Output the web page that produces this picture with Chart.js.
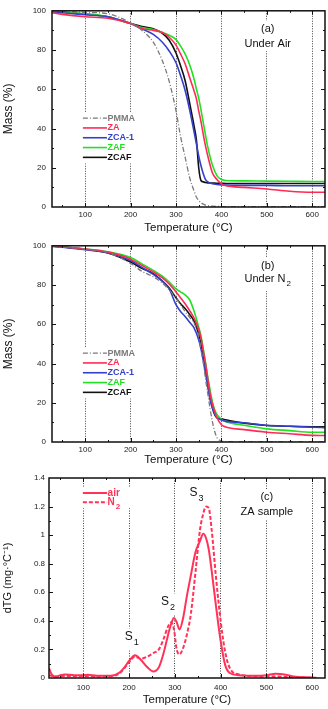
<!DOCTYPE html>
<html>
<head>
<meta charset="utf-8">
<script src="https://cdn.jsdelivr.net/npm/chart.js@4.4.1/dist/chart.umd.min.js"></script>
<style>
  html, body { margin: 0; padding: 0; background: #fff; }
  #wrap { position: relative; width: 328px; height: 709px; background: #fff; }
  canvas { position: absolute; left: 0; }
</style>
</head>
<body>
<div id="wrap">
  <canvas id="chartA" width="328" height="235" style="top:0px"></canvas>
  <canvas id="chartB" width="328" height="232" style="top:235px"></canvas>
  <canvas id="chartC" width="328" height="242" style="top:467px"></canvas>
</div>
<script>
const FONT = '"Liberation Sans", Arial, sans-serif';

// shared tick values
const tempTicks = [100, 200, 300, 400, 500, 600];
const massTicks = [0, 20, 40, 60, 80, 100];
const dtgTicks = [0, 0.2, 0.4, 0.6, 0.8, 1, 1.2, 1.4];
const seriesNames = ['PMMA', 'ZA', 'ZCA-1', 'ZAF', 'ZCAF'];

// (a) under air
const airTemp = [27, 50, 100, 150, 200, 225, 250, 270, 285, 300, 310, 320, 330, 340, 345, 350, 355, 360, 365, 370, 380, 390, 400, 410, 450, 500, 550, 600, 628];
const airPMMA = [99.8, 99.6, 99.2, 98.5, 93.8, 90, 84, 74.5, 64, 49, 36, 25.5, 15, 8, 5, 3.3, 2.2, 1.5, 1, 0.7, 0.4, 0.3, 0.2, 0.2, 0.2, 0.2, 0.2, 0.2, 0.2];
const airZA   = [99, 98.2, 97, 96.2, 93.5, 91, 90, 89, 86.5, 82.5, 78, 73, 66, 59, 55, 49, 43.5, 37, 31, 26, 17.5, 14, 11.8, 10.8, 10, 9.2, 8, 7.5, 7.5];
const airZCA1 = [99.6, 99, 98, 97, 93.5, 90.8, 88, 84, 79.5, 73.5, 67, 59.5, 49.5, 38, 32, 26, 21, 17, 14, 12.8, 11.8, 11.5, 11.3, 11.2, 11, 11, 10.8, 10.8, 10.8];
const airZAF  = [99.7, 99.3, 98.5, 97, 93.5, 91.5, 90.5, 89, 87.5, 85.3, 82, 78, 72.5, 65, 60, 55.5, 49.5, 43, 36.5, 30.5, 21.5, 16, 14, 13.5, 13.3, 13.2, 13.1, 13, 13];
const airZCAF = [99.7, 99.3, 98.3, 97, 93.5, 92, 90.8, 88.5, 85, 78.5, 72, 64.5, 53, 41, 34, 20, 13.5, 12.8, 12.5, 12.3, 12.2, 12.1, 12.1, 12, 12, 12, 12, 12, 12];

// (b) under N2
const n2Temp = [27, 50, 100, 150, 200, 225, 250, 270, 285, 300, 310, 320, 330, 340, 350, 355, 360, 365, 370, 375, 380, 385, 390, 400, 410, 450, 500, 550, 600, 628];
const n2PMMA = [99.8, 99.5, 98.3, 96.5, 91, 87, 84.2, 81, 77.5, 73.5, 70, 66.5, 63.5, 60.5, 54, 47, 40.5, 32, 24.5, 17, 10.5, 5.5, 2.3, 0.5, 0.2, 0.2, 0.2, 0.2, 0.2, 0.2];
const n2ZA   = [99.8, 99.5, 98.3, 96.8, 93.2, 90, 86.7, 83.6, 80.5, 76.5, 73.5, 70.5, 67, 63, 57.5, 53, 46.5, 40, 32, 24.5, 19.5, 15.8, 12.5, 8.8, 7.6, 6.3, 5, 4.2, 3.4, 3.3];
const n2ZCA1 = [99.8, 99.3, 98, 96.5, 92.5, 89, 85.4, 82, 78, 70, 66.5, 64, 61, 58, 52, 47.5, 41.5, 35, 28, 21.5, 17.5, 14.5, 12.5, 11.2, 10.5, 9.8, 8.5, 8, 7.5, 7.3];
const n2ZAF  = [99.8, 99.5, 98.4, 97, 94, 90.8, 87.5, 84.5, 81.5, 78, 76.5, 75, 72.5, 66.5, 58.5, 54, 47.5, 40.5, 33, 26.5, 20.5, 16.5, 14, 11.5, 10.3, 8.5, 6.7, 5.8, 5, 5];
const n2ZCAF = [99.8, 99.4, 98.2, 96.3, 91.7, 88.5, 85.8, 82, 78.5, 73.5, 70.5, 68, 65, 61.5, 55, 50, 43.5, 37, 30, 23, 17.5, 14, 12.3, 11.8, 11.3, 9.6, 8.4, 8, 7.8, 7.8];

// (c) dTG of ZA sample
const dtgTemp = [25, 30, 40, 50, 60, 80, 100, 110, 130, 160, 180, 190, 200, 213, 225, 240, 253, 265, 275, 285, 292, 298, 304, 310, 318, 326, 335, 345, 355, 362, 368, 374, 380, 390, 400, 410, 420, 440, 480, 500, 520, 540, 560, 600, 610];
const dtgAir = [0.07, 0.03, 0.008, 0.02, 0.025, 0.02, 0.02, 0.022, 0.015, 0.015, 0.04, 0.075, 0.12, 0.16, 0.13, 0.075, 0.045, 0.075, 0.17, 0.3, 0.38, 0.42, 0.39, 0.34, 0.42, 0.57, 0.72, 0.88, 0.96, 1.01, 0.98, 0.9, 0.76, 0.5, 0.26, 0.09, 0.035, 0.02, 0.015, 0.02, 0.03, 0.025, 0.01, 0.003, 0];
const dtgN2  = [0.02, 0.015, 0.01, 0.012, 0.015, 0.012, 0.012, 0.012, 0.01, 0.012, 0.035, 0.07, 0.11, 0.15, 0.135, 0.15, 0.175, 0.2, 0.27, 0.36, 0.39, 0.34, 0.2, 0.165, 0.21, 0.3, 0.45, 0.74, 1.04, 1.15, 1.2, 1.19, 1.05, 0.7, 0.4, 0.18, 0.07, 0.025, 0.012, 0.01, 0.01, 0.008, 0.006, 0.002, null];

const colors = { PMMA: '#7a7a7a', ZA: '#ff2a55', 'ZCA-1': '#3340cc', ZAF: '#22e022', ZCAF: '#111111' };
const dtgRed = '#ff3358';

function lineSet(label, temps, vals, color, dash, width) {
  return {
    label: label,
    data: temps.map((t, i) => ({ x: t, y: vals[i] })),
    borderColor: color,
    borderWidth: width || 1.6,
    borderDash: dash || [],
    pointRadius: 0,
    fill: false,
    cubicInterpolationMode: 'monotone'
  };
}

function massSets(temps, series) {
  return series.map((vals, i) => {
    const name = seriesNames[i];
    const dash = name === 'PMMA' ? [5, 2, 1, 2] : [];
    return lineSet(name, temps, vals, colors[name], dash, name === 'PMMA' ? 1.3 : 1.6);
  });
}

function fontOf(n, size) {
  return (n.weight || 'normal') + ' ' + size + 'px ' + FONT;
}

function drawNote(ctx, n, px, py) {
  const size = n.size || 11;
  const subSize = n.subSize || 8;
  ctx.font = fontOf(n, size);
  const w1 = ctx.measureText(n.text).width;
  let w2 = 0;
  if (n.sub) {
    ctx.font = fontOf(n, subSize);
    w2 = ctx.measureText(n.sub).width + 1;
  }
  const x0 = n.align === 'left' ? px : px - (w1 + w2) / 2;
  if (n.bg) {
    ctx.fillStyle = '#fff';
    ctx.fillRect(x0 - 2, py - size * 0.6 - 1, w1 + w2 + 4, size * 1.2 + (n.sub ? size * 0.45 : 0) + 2);
  }
  ctx.fillStyle = n.color || '#111';
  ctx.textAlign = 'left';
  ctx.textBaseline = 'middle';
  ctx.font = fontOf(n, size);
  ctx.fillText(n.text, x0, py);
  if (n.sub) {
    ctx.font = fontOf(n, subSize);
    ctx.fillText(n.sub, x0 + w1 + 1, py + size * 0.5);
  }
}

// frame, inward ticks, legend and notes
const decor = {
  id: 'decor',
  afterDraw(chart, args, opts) {
    const { ctx, chartArea: a, scales: { x, y } } = chart;
    ctx.save();

    // white boxes behind legend, so the dotted grid stops there
    const lg = opts.legend;
    const rows = lg.rows.map(v => y.getPixelForValue(v));
    ctx.fillStyle = '#fff';
    ctx.fillRect(x.getPixelForValue(lg.x0) - 2, rows[0] - 6, x.getPixelForValue(lg.xt) - x.getPixelForValue(lg.x0) + 32,
                 rows[rows.length - 1] - rows[0] + 12);

    chart.data.datasets.forEach((ds, i) => {
      const py = rows[i];
      ctx.beginPath();
      ctx.setLineDash(ds.borderDash || []);
      ctx.strokeStyle = ds.borderColor;
      ctx.lineWidth = ds.borderWidth;
      ctx.moveTo(x.getPixelForValue(lg.x0), py);
      ctx.lineTo(x.getPixelForValue(lg.x1), py);
      ctx.stroke();
      ctx.setLineDash([]);
      const lab = lg.labels ? lg.labels[i] : { text: ds.label };
      drawNote(ctx, Object.assign({ align: 'left', size: lg.size, subSize: lg.subSize, weight: lg.weight, color: lg.color || ds.borderColor }, lab),
        x.getPixelForValue(lg.xt), py);
    });

    (opts.notes || []).forEach(n => {
      drawNote(ctx, Object.assign({ bg: true }, n), x.getPixelForValue(n.x), y.getPixelForValue(n.y));
    });

    // inward tick marks on all four sides
    ctx.strokeStyle = '#111';
    ctx.lineWidth = 1;
    ctx.beginPath();
    for (let v = 50; v < x.max; v += 50) {
      if (v < x.min) continue;
      const px = Math.round(x.getPixelForValue(v)) + 0.5;
      const len = v % 100 === 0 ? 4 : 2;
      ctx.moveTo(px, a.bottom); ctx.lineTo(px, a.bottom - len);
      ctx.moveTo(px, a.top); ctx.lineTo(px, a.top + len);
    }
    const step = opts.yStep;
    for (let k = 1; k * step / 2 < y.max - 1e-9; k++) {
      const v = k * step / 2;
      const py = Math.round(y.getPixelForValue(v)) + 0.5;
      const len = k % 2 === 0 ? 4 : 2;
      ctx.moveTo(a.left, py); ctx.lineTo(a.left + len, py);
      ctx.moveTo(a.right, py); ctx.lineTo(a.right - len, py);
    }
    ctx.stroke();
    ctx.lineWidth = 1.5;
    ctx.strokeRect(a.left, a.top, a.right - a.left, a.bottom - a.top);
    ctx.restore();
  }
};

function makeChart(id, datasets, o) {
  return new Chart(document.getElementById(id), {
    type: 'line',
    data: { datasets: datasets },
    plugins: [decor],
    options: {
      responsive: false,
      animation: false,
      devicePixelRatio: 1,
      layout: { padding: { top: o.padTop, right: 3, left: 0, bottom: 0 } },
      plugins: {
        legend: { display: false },
        tooltip: { enabled: false },
        decor: { yStep: o.yStep, legend: o.legend, notes: o.notes }
      },
      scales: {
        x: {
          type: 'linear',
          min: o.xMin,
          max: 628,
          afterBuildTicks: s => { s.ticks = tempTicks.map(v => ({ value: v })); },
          afterFit: s => { s.height = o.xHeight; },
          grid: { color: 'rgba(45,45,45,0.9)', lineWidth: 1, drawTicks: false },
          border: { display: false, dash: [1, 1.5] },
          ticks: { font: { size: 8, family: FONT }, color: '#222', padding: o.xPad, maxRotation: 0 },
          title: { display: true, text: 'Temperature (°C)', color: '#111',
                   font: { size: 11.5, family: FONT }, padding: { top: 0, bottom: o.titlePad } }
        },
        y: {
          type: 'linear',
          min: 0,
          max: o.yMax,
          afterBuildTicks: s => { s.ticks = o.yTicks.map(v => ({ value: v })); },
          afterFit: s => { s.width = o.yWidth; },
          grid: { display: false, drawTicks: false },
          border: { display: false },
          ticks: { font: { size: 8, family: FONT }, color: '#222', padding: o.yPad,
                   callback: v => String(+Number(v).toFixed(1)) },
          title: { display: true, text: o.yTitle, color: '#111',
                   font: { size: o.yTitleSize, family: FONT }, padding: { top: 1, bottom: 0 } }
        }
      }
    }
  });
}

const massLegend = { x0: 95, x1: 148, xt: 149, rows: [45.3, 40.3, 35.3, 30.3, 25.3], size: 9, weight: 'bold' };

makeChart('chartA', massSets(airTemp, [airPMMA, airZA, airZCA1, airZAF, airZCAF]), {
  padTop: 7, xHeight: 28, xPad: 3, titlePad: 0, xMin: 27,
  yMax: 100, yTicks: massTicks, yStep: 20, yWidth: 52, yPad: 6,
  yTitle: 'Mass (%)', yTitleSize: 12,
  legend: massLegend,
  notes: [
    { text: '(a)', x: 502, y: 90.9 },
    { text: 'Under Air', x: 502, y: 83.3 }
  ]
});

makeChart('chartB', massSets(n2Temp, [n2PMMA, n2ZA, n2ZCA1, n2ZAF, n2ZCAF]), {
  padTop: 7, xHeight: 25, xPad: 3, titlePad: 0, xMin: 27,
  yMax: 100, yTicks: massTicks, yStep: 20, yWidth: 52, yPad: 6,
  yTitle: 'Mass (%)', yTitleSize: 12,
  legend: massLegend,
  notes: [
    { text: '(b)', x: 502, y: 89.9 },
    { text: 'Under N', sub: '2', x: 502, y: 83.3 }
  ]
});

makeChart('chartC', [
  lineSet('air', dtgTemp, dtgAir, dtgRed, [], 2),
  lineSet('N2', dtgTemp, dtgN2, dtgRed, [4, 2], 2)
], {
  padTop: 11, xHeight: 31, xPad: 5, titlePad: 2, xMin: 25,
  yMax: 1.4, yTicks: dtgTicks, yStep: 0.2, yWidth: 49, yPad: 4,
  yTitle: 'dTG (mg·°C⁻¹)', yTitleSize: 11,
  legend: { x0: 99, x1: 152, xt: 153, rows: [1.295, 1.23], size: 10, subSize: 8, weight: 'bold', color: dtgRed,
            labels: [{ text: 'air' }, { text: 'N', sub: '2' }] },
  notes: [
    { text: '(c)', x: 501, y: 1.27 },
    { text: 'ZA sample', x: 501, y: 1.165 },
    { text: 'S', sub: '1', x: 206, y: 0.29, size: 12, subSize: 9 },
    { text: 'S', sub: '2', x: 285, y: 0.535, size: 12, subSize: 9 },
    { text: 'S', sub: '3', x: 347, y: 1.3, size: 12, subSize: 9 }
  ]
});
</script>
</body>
</html>
